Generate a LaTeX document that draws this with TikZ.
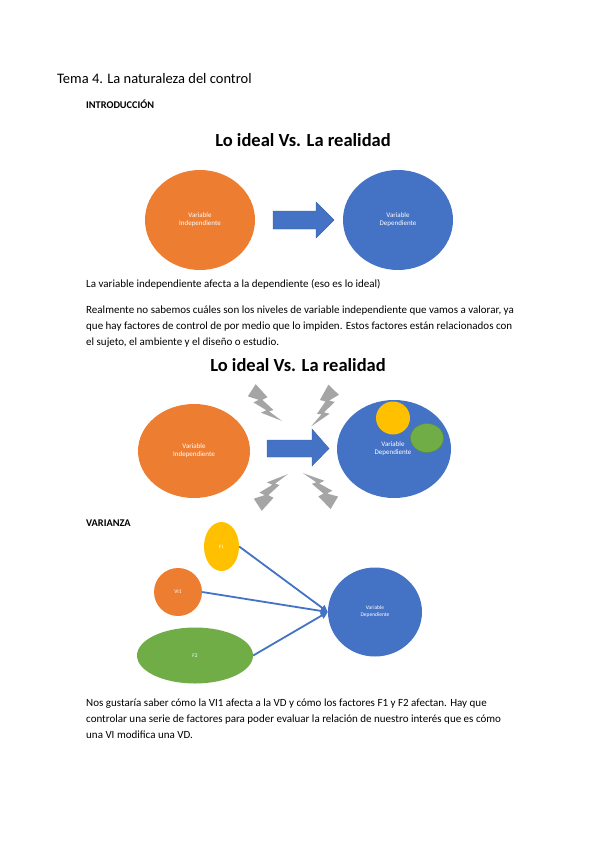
\documentclass[tikz,border=0pt]{standalone}
\usepackage{fontspec}
\setmainfont{Carlito}
\usetikzlibrary{arrows.meta,shapes.geometric}
\definecolor{oorange}{HTML}{ED7D31}
\definecolor{oblue}{HTML}{4472C4}
\definecolor{oblueline}{HTML}{3A62A8}
\definecolor{oyellow}{HTML}{FFC000}
\definecolor{ogreen}{HTML}{70AD47}
\definecolor{ogreenline}{HTML}{5A8F38}
\definecolor{ogray}{HTML}{A5A5A5}
\tikzset{
  blob/.style={ellipse, inner sep=0pt, text=white, font=\fontsize{7}{8}\selectfont, align=center},
  orangeblob/.style={blob, fill=oorange},
  blueblob/.style={blob, fill=oblue},
  yellowblob/.style={blob, fill=oyellow},
  greenblob/.style={blob, fill=ogreen},
  body/.style={anchor=base west, inner sep=0pt, font=\fontsize{11}{16}\selectfont, align=left},
  bigtitle/.style={inner sep=0pt, font=\fontsize{18.5}{22}\selectfont\bfseries},
  blockarrow/.style={fill=oblue, draw=oblueline, line width=0.4pt},
  link/.style={draw=oblue, line width=1.8pt, -{Triangle[length=7pt,width=7pt]}},
  bolt/.pic={\fill[ogray] (0,-10.5) -- (17,-6) -- (14,-1) -- (29,1.5) -- (26,5) -- (42,6) -- (20,10.5) -- (23,5.5) -- (8,6) -- (11,1) -- (0,4) -- cycle;}
}
\begin{document}
\begin{tikzpicture}[x=1pt,y=-1pt]
\useasboundingbox[fill=white] (0,0) rectangle (599,848);

% header
\node[anchor=base west, inner sep=0pt, font=\fontsize{14.5}{17}\selectfont] (tema) at (57,84) {Tema 4. La naturaleza del control};
\node[anchor=base west, inner sep=0pt, font=\fontsize{10.3}{12}\selectfont\bfseries] (intro) at (86,109) {INTRODUCCIÓN};

% diagram 1
\node[bigtitle] (t1) at (303,140) {Lo ideal Vs. La realidad};
\node[orangeblob, minimum width=110pt, minimum height=100pt] (vi) at (200,220) {Variable\\Independiente};
\node[blueblob, minimum width=110pt, minimum height=100pt] (vd) at (398,220) {Variable\\Dependiente};
\draw[blockarrow] (273,211) -- (316,211) -- (316,202) -- (334,220) -- (316,238) -- (316,229) -- (273,229) -- cycle;

\node[body] (p1) at (86,287) {La variable independiente afecta a la dependiente (eso es lo ideal)};
\node[body, anchor=north west] (p2) at (86,306) {Realmente no sabemos cuáles son los niveles de variable independiente que vamos a valorar, ya\\que hay factores de control de por medio que lo impiden. Estos factores están relacionados con\\el sujeto, el ambiente y el diseño o estudio.};

% diagram 2
\node[bigtitle] (t2) at (298,365) {Lo ideal Vs. La realidad};
\node[orangeblob, minimum width=112pt, minimum height=94pt] (vi2) at (194,451) {Variable\\Independiente};
\node[blueblob, minimum width=114pt, minimum height=98pt] (vd2) at (394,449) {};
\node[yellowblob, minimum width=34pt, minimum height=33pt] (y2) at (393,418) {};
\node[greenblob, draw=ogreenline, line width=0.5pt, minimum width=33pt, minimum height=29pt] (g2) at (427,438) {};
\node[blob] (vd2txt) at (393,449) {Variable\\Dependiente};
\draw[blockarrow] (267,440) -- (312,440) -- (312,429) -- (329,448.5) -- (312,466) -- (312,457) -- (267,457) -- cycle;
\pic[rotate=-33] at (250,393) {bolt};
\pic[rotate=-134, yscale=-1] at (336,392) {bolt};
\pic[rotate=33, yscale=-1] at (256,502) {bolt};
\pic[rotate=149] at (336,500) {bolt};

% varianza
\node[anchor=base west, inner sep=0pt, font=\fontsize{10.3}{12}\selectfont\bfseries] (var) at (86,526) {VARIANZA};
\node[yellowblob, minimum width=35pt, minimum height=49pt, font=\fontsize{5}{6}\selectfont] (f1) at (221.5,546.5) {F1};
\node[orangeblob, minimum width=48pt, minimum height=48pt, font=\fontsize{5.5}{6}\selectfont] (vi1) at (178,592) {VI1};
\node[greenblob, minimum width=116pt, minimum height=56pt, font=\fontsize{5.5}{6}\selectfont] (f2) at (195,655.5) {F2};
\node[blueblob, minimum width=94pt, minimum height=89pt, font=\fontsize{5.5}{7}\selectfont] (vd3) at (375,612) {Variable\\Dependiente};
\draw[link] (f1.east) -- (vd3.west);
\draw[link] (vi1.east) -- (vd3.west);
\draw[link] (f2.east) -- (vd3.west);

\node[body, anchor=north west] (p3) at (86,699) {Nos gustaría saber cómo la VI1 afecta a la VD y cómo los factores F1 y F2 afectan. Hay que\\controlar una serie de factores para poder evaluar la relación de nuestro interés que es cómo\\una VI modifica una VD.};
\end{tikzpicture}
\end{document}
